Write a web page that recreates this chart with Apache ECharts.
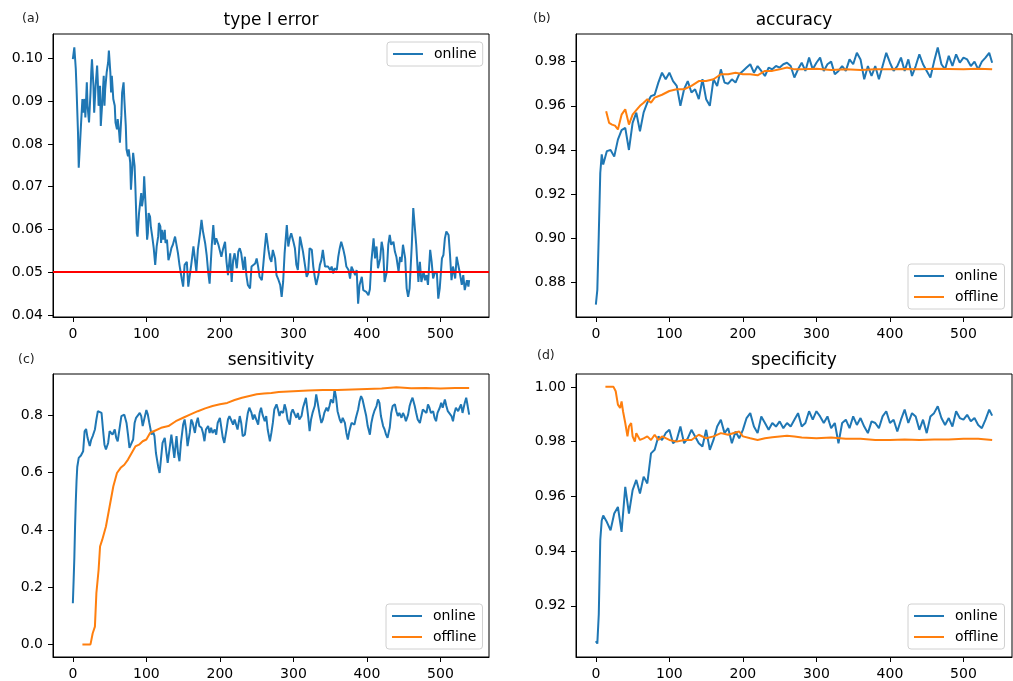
<!DOCTYPE html>
<html>
<head>
<meta charset="utf-8">
<script src="https://cdn.jsdelivr.net/npm/echarts@6/dist/echarts.min.js"></script>
<style>
  html, body { margin: 0; padding: 0; background: #fff; }
  #chart { width: 1013px; height: 681px; }
</style>
</head>
<body>
<div id="chart"></div>
<script>
// (a) type I error, online curve
const typeIX = [
  0, 2, 4, 5, 7, 8, 10, 11, 13, 14,
  16, 17, 19, 20, 22, 24, 25, 26, 28, 29,
  31, 33, 34, 35, 37, 38, 40, 42, 43, 44,
  46, 48, 49, 51, 52, 53, 55, 57, 58, 60,
  61, 63, 64, 66, 67, 69, 70, 72, 73, 75,
  76, 78, 79, 81, 82, 84, 85, 87, 88, 90,
  91, 93, 94, 96, 97, 99, 101, 102, 103, 105,
  106, 108, 110, 111, 112, 114, 116, 117, 119, 120,
  121, 123, 125, 126, 128, 129, 130, 132, 134, 136,
  139, 141, 143, 145, 148, 150, 152, 155, 157, 159,
  161, 164, 166, 168, 170, 173, 175, 177, 180, 182,
  184, 186, 189, 191, 193, 195, 198, 200, 202, 204,
  207, 209, 211, 214, 216, 218, 220, 223, 225, 227,
  229, 232, 234, 236, 238, 241, 243, 245, 248, 250,
  252, 254, 257, 259, 261, 263, 266, 268, 270, 272,
  275, 277, 279, 282, 284, 286, 288, 291, 293, 295,
  297, 300, 302, 304, 306, 309, 311, 313, 316, 318,
  320, 322, 325, 327, 329, 331, 334, 336, 338, 340,
  343, 345, 347, 350, 352, 354, 356, 359, 361, 363,
  365, 368, 370, 372, 375, 377, 379, 381, 384, 386,
  388, 390, 393, 395, 397, 399, 402, 404, 406, 409,
  411, 413, 415, 418, 420, 422, 424, 427, 429, 431,
  433, 436, 438, 440, 443, 445, 447, 449, 452, 454,
  456, 458, 461, 463, 465, 467, 470, 472, 474, 477,
  479, 481, 483, 486, 488, 490, 492, 495, 497, 499,
  502, 504, 506, 508, 511, 513, 515, 517, 520, 522,
  524, 526, 529, 531, 533, 536, 538, 539
];
const typeIOnline = [
  0.0998, 0.1026, 0.0975, 0.093, 0.0826, 0.0744, 0.0748, 0.0842, 0.0905, 0.0873,
  0.0905, 0.0862, 0.0944, 0.0889, 0.085, 0.092, 0.0967, 0.0998, 0.0936, 0.0873,
  0.0936, 0.0983, 0.0944, 0.0889, 0.0936, 0.0842, 0.0897, 0.0959, 0.0889, 0.0928,
  0.0967, 0.0991, 0.1018, 0.0967, 0.092, 0.0959, 0.0905, 0.0889, 0.085, 0.0834,
  0.0858, 0.0826, 0.0803, 0.0866, 0.092, 0.0944, 0.0905, 0.0842, 0.0787, 0.0771,
  0.0787, 0.0756, 0.0693, 0.0748, 0.0779, 0.0748, 0.0701, 0.0591, 0.0583, 0.0638,
  0.0654, 0.0685, 0.0654, 0.0677, 0.0724, 0.0654, 0.0576, 0.0591, 0.0638, 0.063,
  0.0607, 0.0583, 0.0556, 0.0552, 0.0517, 0.056, 0.0583, 0.0615, 0.0607, 0.0568,
  0.0599, 0.0576, 0.0599, 0.0568, 0.0576, 0.0552, 0.0528, 0.054, 0.0556, 0.0564,
  0.0583, 0.0587, 0.0544, 0.0517, 0.0485, 0.0466, 0.0517, 0.0524, 0.0466, 0.047,
  0.0517, 0.056, 0.0556, 0.0501, 0.0552, 0.0591, 0.0622, 0.0595, 0.0567, 0.054,
  0.0501, 0.0473, 0.0564, 0.061, 0.0564, 0.0579, 0.0564, 0.0567, 0.0536, 0.0552,
  0.0571, 0.0524, 0.0493, 0.0544, 0.0477, 0.0528, 0.0544, 0.0509, 0.0548, 0.0556,
  0.0544, 0.0505, 0.0536, 0.0493, 0.047, 0.0462, 0.0513, 0.0509, 0.052, 0.0532,
  0.0513, 0.0489, 0.0481, 0.0517, 0.0556, 0.0591, 0.0552, 0.0532, 0.0524, 0.0552,
  0.0532, 0.0493, 0.0485, 0.047, 0.0442, 0.0477, 0.0544, 0.061, 0.056, 0.0579,
  0.0591, 0.0571, 0.0556, 0.0517, 0.0505, 0.0583, 0.0579, 0.0548, 0.0513, 0.0489,
  0.0497, 0.0556, 0.0552, 0.0513, 0.0489, 0.047, 0.0493, 0.0517, 0.0528, 0.0552,
  0.0513, 0.0517, 0.0513, 0.0505, 0.0513, 0.0497, 0.0509, 0.0505, 0.0536, 0.0556,
  0.0571, 0.0552, 0.0536, 0.0513, 0.0505, 0.0485, 0.0513, 0.0517, 0.0493, 0.0505,
  0.0426, 0.047, 0.0489, 0.0458, 0.0462, 0.0454, 0.0446, 0.046, 0.0524, 0.0579,
  0.0532, 0.056, 0.0509, 0.0532, 0.0571, 0.0552, 0.0477, 0.0501, 0.0564, 0.0587,
  0.0564, 0.0571, 0.0548, 0.0536, 0.0501, 0.0536, 0.0524, 0.0564, 0.0532, 0.0462,
  0.0442, 0.0462, 0.0564, 0.065, 0.0654, 0.0564, 0.0477, 0.0524, 0.0477, 0.0501,
  0.0481, 0.0493, 0.047, 0.0552, 0.0524, 0.0485, 0.0497, 0.0501, 0.0438, 0.0462,
  0.0532, 0.054, 0.0579, 0.0595, 0.0587, 0.054, 0.0481, 0.0513, 0.0485, 0.0536,
  0.054, 0.0501, 0.047, 0.0493, 0.0458, 0.0481, 0.0466, 0.0481
];
const alphaLevel = 0.05;

// x positions shared by the (b) and (d) online curves
const onlineX = [
  0, 2, 4, 6, 8,
  10, 15, 20, 25, 30, 35, 40, 45, 50, 55,
  60, 65, 70, 75, 80, 85, 90, 95, 100, 105,
  110, 115, 120, 125, 130, 135, 140, 145, 150, 155,
  160, 165, 170, 175, 180, 185, 190, 195, 200, 205,
  210, 215, 220, 225, 230, 235, 240, 245, 250, 255,
  260, 265, 270, 275, 280, 285, 290, 295, 300, 305,
  310, 315, 320, 325, 330, 335, 340, 345, 350, 355,
  360, 365, 370, 375, 380, 385, 390, 395, 400, 405,
  410, 415, 420, 425, 430, 435, 440, 445, 450, 455,
  460, 465, 470, 475, 480, 485, 490, 495, 500, 505,
  510, 515, 520, 525, 530, 535, 539
];

// (b) accuracy
const accOnline = [
  0.870, 0.8767, 0.902, 0.9296, 0.938,
  0.9334, 0.9395, 0.940, 0.937, 0.9447, 0.949, 0.950, 0.940, 0.9523, 0.9569,
  0.9485, 0.957, 0.9614, 0.9644, 0.965, 0.9705, 0.975, 0.972, 0.975, 0.9712,
  0.969, 0.960, 0.9675, 0.9712, 0.966, 0.9675, 0.963, 0.972, 0.963, 0.960,
  0.972, 0.969, 0.9765, 0.9705, 0.970, 0.972, 0.9705, 0.9743, 0.9758, 0.9773,
  0.9788, 0.975, 0.978, 0.9758, 0.9735, 0.9773, 0.9765, 0.978, 0.9773, 0.9788,
  0.9795, 0.978, 0.9728, 0.9765, 0.9795, 0.9758, 0.9818, 0.9765, 0.9795, 0.9818,
  0.9758, 0.9788, 0.980, 0.9743, 0.9758, 0.978, 0.9758, 0.981, 0.9788, 0.984,
  0.981, 0.972, 0.978, 0.9735, 0.978, 0.972, 0.978, 0.984, 0.9795, 0.9758,
  0.978, 0.9818, 0.9758, 0.981, 0.9735, 0.978, 0.9833, 0.9788, 0.9758, 0.9728,
  0.980, 0.9864, 0.9788, 0.9765, 0.9826, 0.978, 0.9833, 0.9795, 0.9818, 0.981,
  0.978, 0.980, 0.9765, 0.980, 0.9818, 0.984, 0.9795
];
const accOfflineX = [
  14, 18, 22, 26, 30,
  35, 40, 45, 50, 55, 60, 65, 70, 75, 80,
  90, 100, 110, 120, 130, 140, 150, 160, 170, 180,
  190, 200, 210, 220, 230, 240, 250, 260, 270, 280,
  300, 320, 340, 360, 380, 400, 420, 440, 460, 480, 500, 520, 539
];
const accOffline = [
  0.9575, 0.9523, 0.9515, 0.951, 0.9493,
  0.956, 0.9584, 0.9515, 0.956, 0.958, 0.960, 0.9614, 0.963, 0.9614, 0.9637,
  0.965, 0.9667, 0.9675, 0.9675, 0.969, 0.9712, 0.9712, 0.972, 0.9743, 0.9743,
  0.975, 0.9743, 0.9743, 0.9738, 0.9758, 0.9758, 0.9765, 0.9773, 0.9765, 0.9765,
  0.9768, 0.9762, 0.9765, 0.9762, 0.9765, 0.9765, 0.9767, 0.9765, 0.9768, 0.9767, 0.9765, 0.9768, 0.9765
];

// (c) sensitivity
const sensX = [
  0, 1, 2, 3, 4, 5, 6, 8, 11, 14,
  16, 18, 20, 23, 25, 27, 30, 32, 34, 36,
  39, 41, 43, 45, 48, 50, 52, 54, 57, 59,
  61, 64, 66, 68, 70, 73, 75, 77, 79, 82,
  84, 86, 88, 91, 93, 95, 97, 100, 102, 104,
  107, 109, 111, 113, 116, 118, 120, 122, 125, 127,
  129, 132, 134, 136, 138, 141, 143, 145, 147, 150,
  152, 154, 156, 159, 161, 163, 166, 168, 170, 172,
  175, 177, 179, 181, 184, 186, 188, 190, 193, 195,
  197, 200, 202, 204, 206, 209, 211, 213, 215, 218,
  220, 222, 224, 227, 229, 231, 234, 236, 238, 240,
  243, 245, 247, 249, 252, 254, 256, 258, 261, 263,
  265, 268, 270, 272, 274, 277, 279, 281, 283, 286,
  288, 290, 292, 295, 297, 299, 302, 304, 306, 308,
  311, 313, 315, 317, 320, 322, 324, 326, 329, 331,
  333, 336, 338, 340, 342, 345, 347, 349, 351, 354,
  356, 358, 360, 363, 365, 367, 370, 372, 374, 376,
  379, 381, 383, 385, 388, 390, 392, 394, 397, 399,
  401, 404, 406, 408, 410, 413, 415, 417, 419, 422,
  424, 426, 428, 431, 433, 435, 438, 440, 442, 444,
  447, 449, 451, 453, 456, 458, 460, 462, 465, 467,
  469, 472, 474, 476, 478, 481, 483, 485, 487, 490,
  492, 494, 496, 499, 501, 503, 506, 508, 510, 512,
  515, 517, 519, 521, 524, 526, 528, 530, 533, 535,
  537, 539
];
const sensOnline = [
  0.144, 0.22, 0.30, 0.41, 0.50, 0.57, 0.62, 0.652, 0.66, 0.675,
  0.745, 0.753, 0.722, 0.693, 0.716, 0.728, 0.751, 0.786, 0.815, 0.821,
  0.809, 0.751, 0.698, 0.681, 0.704, 0.745, 0.751, 0.733, 0.751, 0.722,
  0.71, 0.763, 0.798, 0.792, 0.803, 0.774, 0.733, 0.687, 0.681, 0.716,
  0.774, 0.792, 0.798, 0.809, 0.798, 0.763, 0.786, 0.819, 0.803, 0.774,
  0.733, 0.745, 0.728, 0.669, 0.622, 0.599, 0.652, 0.704, 0.722, 0.675,
  0.634, 0.693, 0.733, 0.693, 0.652, 0.728, 0.669, 0.64, 0.704, 0.768,
  0.786, 0.751, 0.693, 0.739, 0.786, 0.774, 0.739, 0.774, 0.792, 0.763,
  0.757, 0.739, 0.71, 0.751, 0.763, 0.739, 0.757, 0.739, 0.751, 0.733,
  0.774, 0.792, 0.757, 0.722, 0.704, 0.751, 0.786, 0.798, 0.786, 0.768,
  0.786, 0.78, 0.751, 0.798, 0.774, 0.728, 0.733, 0.774, 0.809, 0.827,
  0.809, 0.786, 0.803, 0.798, 0.768, 0.809, 0.827, 0.803, 0.78, 0.798,
  0.751, 0.71, 0.739, 0.774, 0.821, 0.839, 0.821, 0.798, 0.815, 0.809,
  0.839, 0.821, 0.786, 0.768, 0.809, 0.821, 0.803, 0.792, 0.809, 0.786,
  0.798, 0.827, 0.844, 0.862, 0.798, 0.745, 0.786, 0.809, 0.833, 0.874,
  0.844, 0.798, 0.774, 0.786, 0.809, 0.827, 0.815, 0.833, 0.856, 0.844,
  0.891, 0.862, 0.815, 0.786, 0.774, 0.792, 0.774, 0.739, 0.716, 0.745,
  0.774, 0.78, 0.768, 0.792, 0.821, 0.85, 0.868, 0.856, 0.821, 0.798,
  0.763, 0.733, 0.774, 0.798, 0.815, 0.833, 0.856, 0.844, 0.798, 0.763,
  0.751, 0.733, 0.722, 0.757, 0.809, 0.833, 0.839, 0.815, 0.798, 0.809,
  0.792, 0.809, 0.798, 0.78, 0.803, 0.833, 0.85, 0.862, 0.833, 0.809,
  0.786, 0.774, 0.798, 0.821, 0.827, 0.809, 0.839, 0.827, 0.809, 0.815,
  0.792, 0.78, 0.809, 0.827, 0.844, 0.827, 0.856, 0.833, 0.815, 0.809,
  0.798, 0.78, 0.809, 0.827, 0.815, 0.827, 0.839, 0.809, 0.844, 0.862,
  0.833, 0.803
];
const sensOfflineX = [
  13, 18, 24, 27, 30, 32, 35, 37, 40,
  45, 50, 55, 60, 65, 70, 75, 80, 85, 90, 95, 100, 105, 110,
  120, 130, 140, 150, 160, 170, 180, 190, 200, 210, 220, 230, 240, 250, 260, 270, 280,
  300, 320, 340, 360, 380, 400, 420, 440, 460, 480, 500, 520, 539
];
const sensOffline = [
  0, 0, 0, 0.039, 0.062, 0.179, 0.26, 0.342, 0.366,
  0.412, 0.482, 0.552, 0.599, 0.617, 0.628, 0.646, 0.669, 0.692, 0.698, 0.710, 0.716, 0.739, 0.745,
  0.757, 0.763, 0.780, 0.792, 0.804, 0.815, 0.825, 0.833, 0.839, 0.844, 0.854, 0.862, 0.868, 0.874, 0.877, 0.879, 0.882,
  0.885, 0.887, 0.889, 0.889, 0.891, 0.893, 0.894, 0.899, 0.895, 0.896, 0.894, 0.896, 0.896
];

// (d) specificity
const specOnline = [
  0.9071, 0.9062, 0.917, 0.944, 0.9512,
  0.953, 0.9506, 0.9476, 0.9537, 0.9561, 0.947, 0.9635, 0.9537, 0.9623, 0.966,
  0.961, 0.9672, 0.9647, 0.9757, 0.977, 0.9819, 0.9806, 0.9831, 0.9843, 0.9794,
  0.9806, 0.9855, 0.9794, 0.9812, 0.9843, 0.9819, 0.9794, 0.9782, 0.9843, 0.977,
  0.9806, 0.9855, 0.988, 0.9831, 0.9849, 0.9794, 0.9837, 0.9812, 0.9843, 0.9886,
  0.9904, 0.9855, 0.9831, 0.9892, 0.9868, 0.9843, 0.9868, 0.9855, 0.9874, 0.9849,
  0.9868, 0.9855, 0.988, 0.9904, 0.9855, 0.9868, 0.9911, 0.988, 0.9911, 0.9892,
  0.9868, 0.9892, 0.9849, 0.9868, 0.9794, 0.9868, 0.988, 0.9849, 0.9892, 0.9861,
  0.9886, 0.9855, 0.9831, 0.9874, 0.9868, 0.9849, 0.9892, 0.9911, 0.9868, 0.988,
  0.9837, 0.988, 0.9917, 0.9868, 0.9904, 0.9892, 0.9843, 0.988, 0.9831, 0.9892,
  0.9904, 0.9929, 0.9886, 0.9861, 0.9886, 0.9855, 0.9911, 0.9886, 0.988, 0.9898,
  0.9874, 0.9886, 0.9861, 0.9849, 0.988, 0.9917, 0.9895
];
const specOfflineX = [
  13, 20, 24, 27, 30, 33, 35, 37, 40, 43,
  45, 48, 50, 53, 55, 60, 65, 70, 75, 80,
  85, 90, 100, 110, 120, 130, 140, 150, 160, 170,
  180, 190, 195, 200, 210, 220, 230, 240, 250, 260,
  270, 280, 300, 320, 340, 360, 380, 400, 420, 440,
  460, 480, 500, 520, 539
];
const specOffline = [
  1.0, 1.0, 1.0, 0.9984, 0.9935, 0.9923, 0.9947, 0.991, 0.9868, 0.9819,
  0.9855, 0.9868, 0.9819, 0.980, 0.9831, 0.9806, 0.9812, 0.9819, 0.9806, 0.9825,
  0.9806, 0.9819, 0.9806, 0.980, 0.9806, 0.9806, 0.9825, 0.9812, 0.9819, 0.9831,
  0.9825, 0.9833, 0.9837, 0.9819, 0.9812, 0.9806, 0.9812, 0.9816, 0.9819, 0.9821,
  0.9819, 0.9815, 0.9812, 0.9815, 0.981, 0.981, 0.9806, 0.9806, 0.9808, 0.9806,
  0.9808, 0.9808, 0.981, 0.981, 0.9806
];

// tick labels
const xTicks = [0, 100, 200, 300, 400, 500];
const yTicksA = [0.04, 0.05, 0.06, 0.07, 0.08, 0.09, 0.10];
const yTicksB = [0.88, 0.90, 0.92, 0.94, 0.96, 0.98];
const yTicksC = [0.0, 0.2, 0.4, 0.6, 0.8];
const yTicksD = [0.92, 0.94, 0.96, 0.98, 1.00];

const titles = ["type I error", "accuracy", "sensitivity", "specificity"];
const panelTags = ["(a)", "(b)", "(c)", "(d)"];

const BLUE = "#1f77b4";
const ORANGE = "#ff7f0e";
const FONT = "DejaVu Sans";

function pairs(xs, ys) {
  return xs.map((x, i) => [x, ys[i]]);
}

const grids = [
  { left: 53, top: 34, width: 436, height: 283 },
  { left: 576, top: 34, width: 436, height: 283 },
  { left: 53, top: 374, width: 436, height: 283 },
  { left: 576, top: 374, width: 436, height: 283 },
];

const axisLine = { show: true, onZero: false, lineStyle: { color: "#000", width: 1 } };

function xAxis(i) {
  return {
    type: "value",
    gridIndex: i,
    min: -27,
    max: 566,
    splitLine: { show: false },
    axisLine: axisLine,
    axisTick: { show: true, length: 5, customValues: xTicks, lineStyle: { color: "#000" } },
    axisLabel: {
      customValues: xTicks,
      margin: 10,
      color: "#000",
      fontSize: 14,
      fontFamily: FONT,
    },
  };
}

function yAxis(i, min, max, ticks, digits) {
  return {
    type: "value",
    gridIndex: i,
    min: min,
    max: max,
    splitLine: { show: false },
    axisLine: axisLine,
    axisTick: { show: true, length: 5, customValues: ticks, lineStyle: { color: "#000" } },
    axisLabel: {
      customValues: ticks,
      margin: 10,
      color: "#000",
      fontSize: 14,
      fontFamily: FONT,
      formatter: (v) => v.toFixed(digits),
    },
  };
}

function legend(names, left, top) {
  return {
    data: names,
    orient: "vertical",
    left: left,
    top: top,
    padding: [5, 6, 5, 5],
    itemWidth: 30,
    itemHeight: 14,
    itemGap: 7,
    borderColor: "#d0d0d0",
    borderWidth: 1,
    borderRadius: 3,
    backgroundColor: "rgba(255,255,255,0.8)",
    selectedMode: false,
    itemStyle: { opacity: 0 },
    textStyle: { fontSize: 14, fontFamily: FONT, color: "#000", padding: [0, 0, 0, 6] },
  };
}

function line(name, i, data, color) {
  return {
    name: name,
    type: "line",
    xAxisIndex: i,
    yAxisIndex: i,
    data: data,
    showSymbol: false,
    symbol: "none",
    color: color,
    lineStyle: { color: color, width: 2 },
    animation: false,
  };
}

const titleCenters = [271, 794, 271, 794];
const titleTops = [12, 12, 352, 352];
const tagLefts = [22, 533, 18, 537];
const tagTops = [12, 12, 353, 349];

const titleList = [];
titles.forEach((t, i) => {
  titleList.push({
    text: t,
    left: titleCenters[i],
    top: titleTops[i],
    textAlign: "center",
    padding: 0,
    textStyle: { fontSize: 17, fontWeight: "normal", fontFamily: FONT, color: "#000", lineHeight: 17 },
  });
  titleList.push({
    text: panelTags[i],
    left: tagLefts[i],
    top: tagTops[i],
    padding: 0,
    textStyle: { fontSize: 12.5, fontWeight: "normal", fontFamily: FONT, color: "#222", lineHeight: 12.5 },
  });
});

const typeISeries = line("online", 0, pairs(typeIX, typeIOnline), BLUE);
typeISeries.markLine = {
  silent: true,
  symbol: "none",
  label: { show: false },
  lineStyle: { color: "#ff0000", width: 2, type: "solid" },
  data: [{ yAxis: alphaLevel }],
  animation: false,
};

const chart = echarts.init(document.getElementById("chart"));
chart.setOption({
  animation: false,
  backgroundColor: "#fff",
  title: titleList,
  grid: grids.map((g) => Object.assign({ show: true, borderColor: "#000", borderWidth: 1, backgroundColor: "transparent" }, g)),
  xAxis: [xAxis(0), xAxis(1), xAxis(2), xAxis(3)],
  yAxis: [
    yAxis(0, 0.0395, 0.1057, yTicksA, 2),
    yAxis(1, 0.8644, 0.9925, yTicksB, 2),
    yAxis(2, -0.044, 0.945, yTicksC, 1),
    yAxis(3, 0.9013, 1.0047, yTicksD, 2),
  ],
  legend: [
    legend(["online"], 387, 42),
    legend(["online", "offline"], 908, 264),
    legend(["online", "offline"], 386, 604),
    legend(["online", "offline"], 908, 604),
  ],
  series: [
    typeISeries,
    line("online", 1, pairs(onlineX, accOnline), BLUE),
    line("offline", 1, pairs(accOfflineX, accOffline), ORANGE),
    line("online", 2, pairs(sensX, sensOnline), BLUE),
    line("offline", 2, pairs(sensOfflineX, sensOffline), ORANGE),
    line("online", 3, pairs(onlineX, specOnline), BLUE),
    line("offline", 3, pairs(specOfflineX, specOffline), ORANGE),
  ],
});
</script>
</body>
</html>
